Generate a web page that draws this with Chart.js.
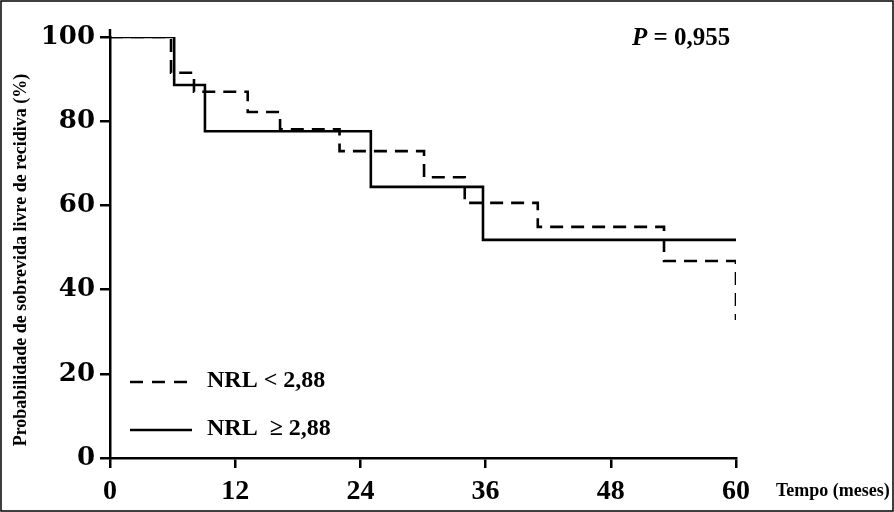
<!DOCTYPE html>
<html>
<head>
<meta charset="utf-8">
<script src="https://cdn.jsdelivr.net/npm/chart.js@4"></script>
<style>
  body { margin: 0; background: #fff; }
  canvas { display: block; }
</style>
</head>
<body>
<canvas id="kmChart" width="894" height="512"></canvas>
<script>
// Dados (meses / % sobrevida livre de recidiva)
const lowTimes = [0, 5.85, 8.05, 13.2, 16.3, 22.0, 30.1, 34.0, 41.0, 53.1, 60];
const lowSurv = [100, 91.5, 87.0, 82.2, 78.1, 72.9, 66.7, 60.6, 54.9, 46.8, 32.8];
const highTimes = [0, 6.15, 9.1, 25.0, 35.75, 60];
const highSurv = [100, 88.6, 77.6, 64.4, 51.8, 51.8];
const xTicks = [0, 12, 24, 36, 48, 60];
const yTicks = [0, 20, 40, 60, 80, 100];
const seriesLabels = ['NRL < 2,88', 'NRL  \u2265 2,88'];

const serif = '"Liberation Serif", "Times New Roman", serif';

function toPoints(times, values) {
    return times.map((t, i) => ({ x: t, y: values[i] }));
}

// Textos e legenda desenhados à mão
const extras = {
    id: 'extras',
    afterDraw(chart) {
        const ctx = chart.ctx;
        const area = chart.chartArea;
        ctx.save();
        ctx.strokeStyle = '#000';
        ctx.fillStyle = '#000';

        // moldura
        ctx.lineWidth = 1.5;
        ctx.strokeRect(1, 1, 892, 510);

        // prolongamento do eixo y
        ctx.lineWidth = 2.5;
        ctx.beginPath();
        ctx.moveTo(area.left, area.top);
        ctx.lineTo(area.left, area.top - 8);
        ctx.stroke();

        // título eixo y
        ctx.save();
        ctx.translate(21, 260);
        ctx.rotate(-Math.PI / 2);
        ctx.font = 'bold 18px ' + serif;
        ctx.textAlign = 'center';
        ctx.textBaseline = 'middle';
        ctx.fillText('Probabilidade de sobrevida livre de recidiva (%)', 0, 0);
        ctx.restore();

        // título eixo x
        ctx.font = 'bold 18px ' + serif;
        ctx.textAlign = 'left';
        ctx.textBaseline = 'middle';
        ctx.fillText('Tempo (meses)', 776, 491);

        // valor P
        ctx.font = 'italic bold 25px ' + serif;
        ctx.fillText('P', 632, 39);
        const pw = ctx.measureText('P').width;
        ctx.font = 'bold 25px ' + serif;
        ctx.fillText(' = 0,955', 632 + pw, 39);

        // legenda
        ctx.lineWidth = 2.5;
        ctx.setLineDash([13, 9]);
        ctx.beginPath();
        ctx.moveTo(130, 382);
        ctx.lineTo(187, 382);
        ctx.stroke();
        ctx.setLineDash([]);
        ctx.beginPath();
        ctx.moveTo(130, 430);
        ctx.lineTo(192, 430);
        ctx.stroke();
        ctx.font = 'bold 24px ' + serif;
        ctx.fillText(seriesLabels[0], 207, 381);
        ctx.fillText(seriesLabels[1], 207, 429);

        ctx.restore();
    }
};

new Chart(document.getElementById('kmChart'), {
    type: 'line',
    data: {
        datasets: [{
            label: seriesLabels[0],
            data: toPoints(lowTimes, lowSurv),
            borderColor: '#000',
            borderWidth: 2.6,
            borderDash: [13, 8],
            stepped: 'before',
            pointRadius: 0,
            fill: false
        }, {
            label: seriesLabels[1],
            data: toPoints(highTimes, highSurv),
            borderColor: '#000',
            borderWidth: 2.6,
            stepped: 'before',
            pointRadius: 0,
            fill: false
        }]
    },
    options: {
        responsive: false,
        animation: false,
        devicePixelRatio: 1,
        layout: { padding: { left: 0, top: 37, right: 158, bottom: 0 } },
        plugins: {
            legend: { display: false },
            tooltip: { enabled: false }
        },
        scales: {
            x: {
                type: 'linear',
                min: 0,
                max: 60,
                afterBuildTicks: scale => { scale.ticks = xTicks.map(v => ({ value: v })); },
                afterFit: scale => { scale.height = 54; },
                grid: { drawOnChartArea: false, tickLength: 10, color: '#000', lineWidth: 2.5 },
                border: { display: true, color: '#000', width: 2.5 },
                ticks: {
                    color: '#000',
                    padding: 7,
                    maxRotation: 0,
                    font: { family: serif, size: 28, weight: 'bold' }
                }
            },
            y: {
                type: 'linear',
                min: 0,
                max: 100,
                afterBuildTicks: scale => { scale.ticks = yTicks.map(v => ({ value: v })); },
                afterFit: scale => { scale.width = 110; },
                grid: { drawOnChartArea: false, tickLength: 10, color: '#000', lineWidth: 2.5 },
                border: { display: true, color: '#000', width: 2.5 },
                ticks: {
                    color: '#000',
                    padding: 5,
                    font: { family: '"DejaVu Serif", serif', size: 26, weight: 'bold' }
                }
            }
        }
    },
    plugins: [extras]
});
</script>
</body>
</html>
